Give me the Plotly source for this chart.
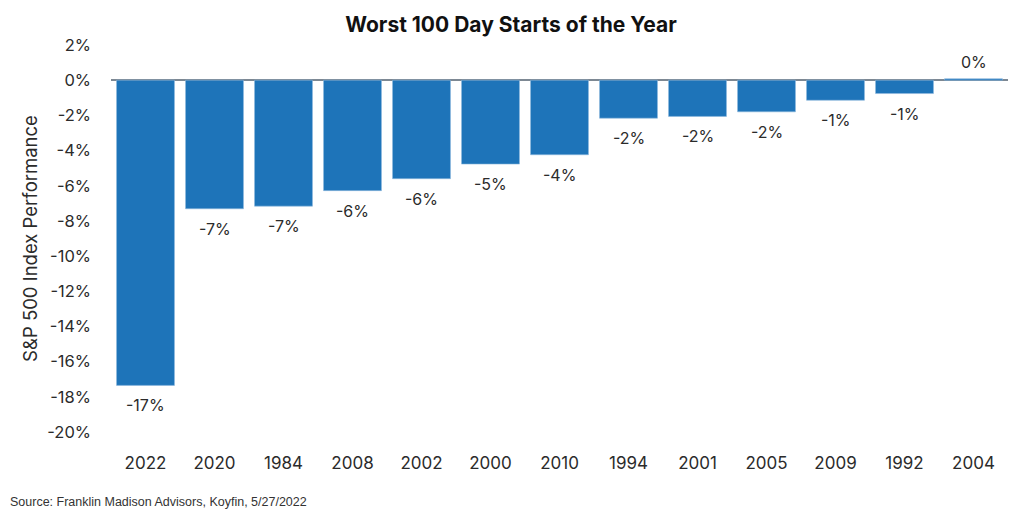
import plotly.graph_objects as go

years = ["2022", "2020", "1984", "2008", "2002", "2000", "2010",
         "1994", "2001", "2005", "2009", "1992", "2004"]
performance = [-17.35, -7.31, -7.16, -6.28, -5.60, -4.77, -4.24,
               -2.16, -2.06, -1.80, -1.14, -0.76, 0.08]
y_ticks = [2, 0, -2, -4, -6, -8, -10, -12, -14, -16, -18, -20]

bar_color = "#1e74b9"
text_color = "#2b2b2b"
font_fam = "Inter, Lato, sans-serif"

# page has an 8px body margin: compensate
OFF = 8
L, R, T, B = 111 - OFF, 15, 45 - OFF, 81
W, H = 1023 - OFF, 513 - OFF
pw, ph = W - L - R, H - T - B

fig = go.Figure()
fig.add_trace(go.Bar(
    x=years, y=performance,
    marker=dict(color=bar_color, line=dict(color="#8fb9dd", width=0.6)),
    hoverinfo="x+y",
))

annotations = []
for i, v in enumerate(performance):
    annotations.append(dict(
        x=i, y=v, xref="x", yref="y",
        text=f"{round(v):.0f}%".replace("-0%", "0%"),
        showarrow=False,
        yshift=-20 if v < 0 else 17,
        font=dict(family=font_fam, size=16, color=text_color),
    ))
annotations.append(dict(
    x=-(L - 0) / pw, y=-(502 - OFF - (T + ph)) / ph, xref="paper", yref="paper",
    xanchor="left", yanchor="middle", showarrow=False,
    text="Source: Franklin Madison Advisors, Koyfin, 5/27/2022",
    font=dict(family="Liberation Sans, Arial, sans-serif", size=12.5, color="#333333"),
))

fig.update_layout(
    width=W, height=H,
    margin=dict(l=L, r=R, t=T, b=B),
    paper_bgcolor="white", plot_bgcolor="white",
    bargap=0.16,
    showlegend=False,
    title=dict(
        text="<b>Worst 100 Day Starts of the Year</b>",
        x=(511 - OFF) / W, xanchor="center", y=1 - (25 - OFF) / H, yanchor="middle",
        font=dict(family=font_fam, size=21, color="#111111"),
    ),
    annotations=annotations,
)
fig.update_xaxes(
    type="category", automargin=False,
    showgrid=False, showline=False, zeroline=False,
    tickfont=dict(family=font_fam, size=17, color=text_color),
    ticks="", ticklabelstandoff=19,
)
fig.update_yaxes(
    range=[-20, 2], automargin=False,
    tickvals=y_ticks,
    ticktext=[f"{t}%" for t in y_ticks],
    tickfont=dict(family=font_fam, size=16.5, color=text_color),
    showgrid=False, showline=False,
    zeroline=True, zerolinecolor="#7d8893", zerolinewidth=1.5,
    ticks="", ticklabelstandoff=19,
    title=dict(text="S&P 500 Index Performance",
               font=dict(family=font_fam, size=18.5, color=text_color),
               standoff=4),
)

fig.write_html("out.html")
